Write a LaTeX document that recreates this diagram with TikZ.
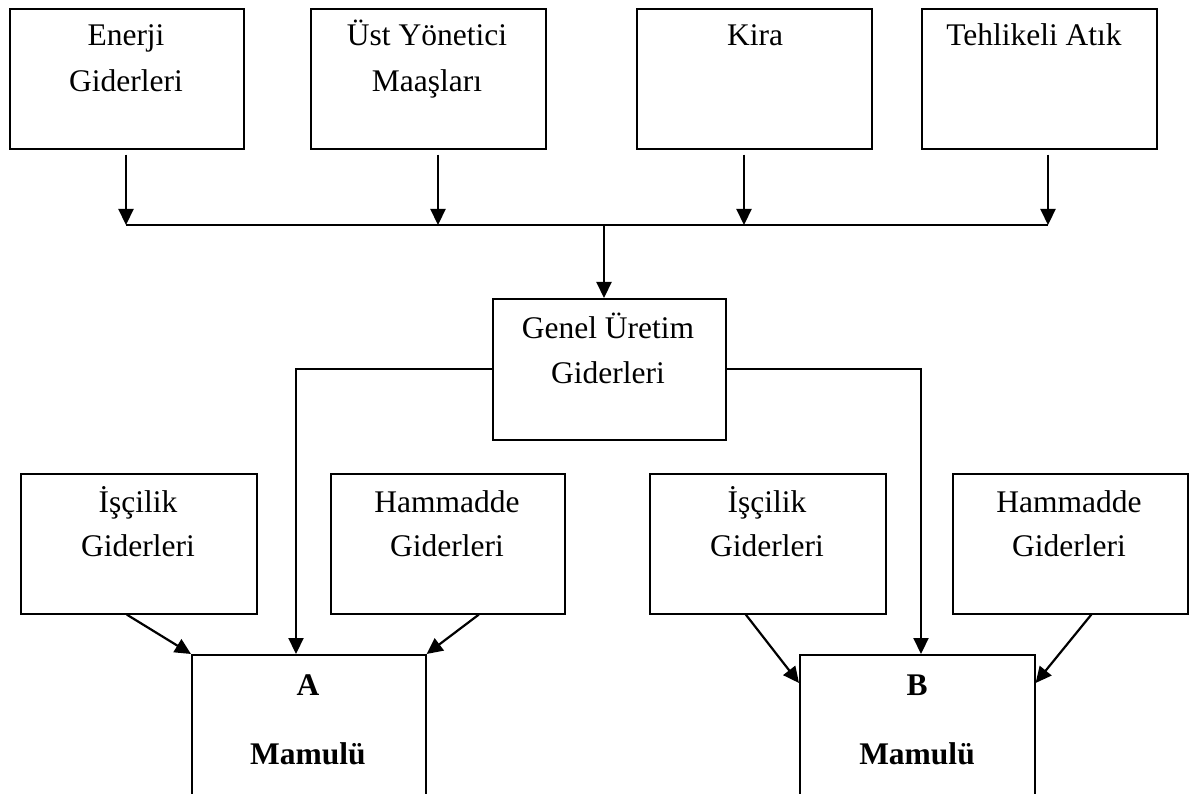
\documentclass[tikz,border=0pt]{standalone}
\usepackage{fontspec}
\setmainfont{Liberation Serif}
\usetikzlibrary{arrows.meta,calc}
\begin{document}
\begin{tikzpicture}[x=1pt,y=-1pt,
  box/.style={draw=black,line width=1.6pt,rectangle,inner sep=0pt,anchor=north west},
  txt/.style={anchor=base,inner sep=0pt,font=\fontsize{31.5}{46}\selectfont},
  btxt/.style={anchor=base,inner sep=0pt,font=\fontsize{31.5}{46}\selectfont\bfseries},
  conn/.style={line width=2.2pt},
  arr/.style={conn,-{Triangle[length=16pt,width=15pt]}}]
\clip (0,0) rectangle (1189,794);
\fill[white] (0,0) rectangle (1189,794);

% cost sources (top row)
\node[box,minimum width=234pt,minimum height=140pt] (en) at (9,8) {};
\node[box,minimum width=235pt,minimum height=140pt] (us) at (310,8) {};
\node[box,minimum width=235pt,minimum height=140pt] (ki) at (636,8) {};
\node[box,minimum width=235pt,minimum height=140pt] (te) at (921,8) {};
\node[txt] (en-1) at (126,46) {Enerji};
\node[txt] (en-2) at (126,92) {Giderleri};
\node[txt] (us-1) at (427,46) {Üst Yönetici};
\node[txt] (us-2) at (427,92) {Maaşları};
\node[txt] (ki-1) at (755,46) {Kira};
\node[txt] (te-1) at (1034,46) {Tehlikeli Atık};

% overhead pool
\node[box,minimum width=233pt,minimum height=141pt] (gen) at (492,298) {};
\node[txt] (gen-1) at (608,338) {Genel Üretim};
\node[txt] (gen-2) at (608,383) {Giderleri};

% direct costs
\node[box,minimum width=236pt,minimum height=140pt] (ia) at (20,473) {};
\node[box,minimum width=234pt,minimum height=140pt] (ha) at (330,473) {};
\node[box,minimum width=236pt,minimum height=140pt] (ib) at (649,473) {};
\node[box,minimum width=235pt,minimum height=140pt] (hb) at (952,473) {};
\node[txt] (ia-1) at (138,512) {İşçilik};
\node[txt] (ia-2) at (138,556) {Giderleri};
\node[txt] (ha-1) at (447,512) {Hammadde};
\node[txt] (ha-2) at (447,556) {Giderleri};
\node[txt] (ib-1) at (767,512) {İşçilik};
\node[txt] (ib-2) at (767,556) {Giderleri};
\node[txt] (hb-1) at (1069,512) {Hammadde};
\node[txt] (hb-2) at (1069,556) {Giderleri};

% products
\node[box,minimum width=234pt,minimum height=170pt] (ma) at (191,654) {};
\node[box,minimum width=235pt,minimum height=170pt] (mb) at (799,654) {};
\node[btxt] (ma-1) at (308,695) {A};
\node[btxt] (ma-2) at (308,764) {Mamulü};
\node[btxt] (mb-1) at (917,695) {B};
\node[btxt] (mb-2) at (917,764) {Mamulü};

% collecting bus
\coordinate (b1) at (126,225);
\coordinate (b2) at (438,225);
\coordinate (b3) at (744,225);
\coordinate (b4) at (1048,225);
\coordinate (bc) at (604,225);
\draw[arr] ($(b1|-en.south)+(0,5)$) -- (b1);
\draw[arr] ($(b2|-us.south)+(0,5)$) -- (b2);
\draw[arr] ($(b3|-ki.south)+(0,5)$) -- (b3);
\draw[arr] ($(b4|-te.south)+(0,5)$) -- (b4);
\draw[conn] (b1) -- (b4);
\draw[arr] (bc) -- (bc|-gen.north);

% overhead allocation
\draw[arr] (gen.west) -| ($(ma.north west)+(105,0)$);
\draw[arr] (gen.east) -| ($(mb.north west)+(122,0)$);

% direct cost flows
\draw[arr] ($(ia.south)+(-12,0)$) -- (ma.north west);
\draw[arr] ($(ha.south)+(31,0)$) -- (ma.north east);
\draw[arr] ($(ib.south)+(-22,0)$) -- ($(mb.north west)+(0,29)$);
\draw[arr] ($(hb.south)+(21,0)$) -- ($(mb.north east)+(0,29)$);
\end{tikzpicture}
\end{document}
